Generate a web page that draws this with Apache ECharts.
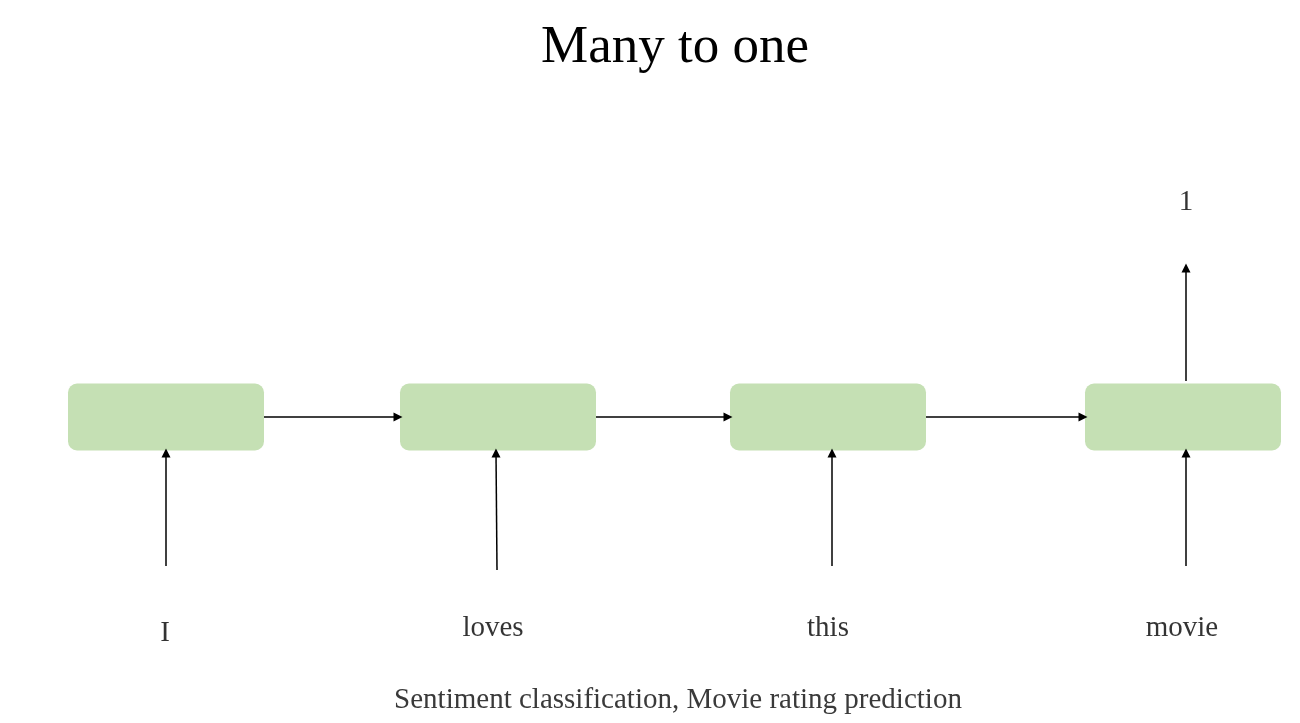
<!DOCTYPE html>
<html>
<head>
<meta charset="utf-8">
<script src="https://cdn.jsdelivr.net/npm/echarts@6/dist/echarts.min.js"></script>
<style>html,body{margin:0;padding:0;background:#fff}#main{width:1300px;height:723px}</style>
</head>
<body>
<div id="main"></div>
<script>
// diagram data (pixel-space coordinates on hidden axes)
var cellCenters = [166, 498, 828, 1183];
var cellY = 417;
var cellW = 196, cellH = 67;
var words = ['I', 'loves', 'this', 'movie'];
var wordX = [165, 493, 828, 1182];
var wordY = [633, 628, 628, 628];
var inputArrows = [[166, 566, 166, 453], [497, 570, 496, 453], [832, 566, 832, 453], [1186, 566, 1186, 453]];
var hArrows = [[264, 417, 398, 417], [596, 417, 728, 417], [926, 417, 1083, 417]];
var outArrow = [[1186, 381, 1186, 268]];
var outputLabel = ['1'];
var outputPos = [1186, 202];

var chart = echarts.init(document.getElementById('main'));

function arrowData(list) {
  return list.map(function (a) { return { coords: [[a[0], a[1]], [a[2], a[3]]] }; });
}

var allArrows = arrowData(inputArrows.concat(hArrows, outArrow));

chart.setOption({
  backgroundColor: '#fff',
  animation: false,
  grid: { left: 0, right: 0, top: 0, bottom: 0 },
  xAxis: { type: 'value', min: 0, max: 1300, show: false },
  yAxis: { type: 'value', min: 0, max: 723, inverse: true, show: false },
  graphic: [{
    type: 'text', x: 675, y: 22,
    style: { text: 'Many to one', font: '53px "Liberation Serif"', fill: '#000', align: 'center' }
  }, {
    type: 'text', x: 678, y: 686,
    style: { text: 'Sentiment classification, Movie rating prediction', font: '29px "Liberation Serif"', fill: '#3a3a3a', align: 'center' }
  }],
  series: [
    {
      type: 'custom',
      data: cellCenters.map(function (x) { return [x, cellY]; }),
      renderItem: function (params, api) {
        var p = api.coord([api.value(0), api.value(1)]);
        var s = api.size([cellW, cellH]);
        return {
          type: 'rect',
          shape: { x: p[0] - s[0] / 2, y: p[1] - s[1] / 2, width: s[0], height: s[1], r: 9 },
          style: { fill: '#c5e0b4' }
        };
      }
    },
    {
      type: 'lines',
      coordinateSystem: 'cartesian2d',
      symbol: ['none', 'triangle'],
      symbolSize: [7, 9],
      lineStyle: { color: '#000', width: 1.5, opacity: 1 },
      data: allArrows
    },
    {
      type: 'scatter',
      symbolSize: 0,
      label: {
        show: true, position: 'inside', color: '#000', textBorderWidth: 0,
        fontFamily: 'Liberation Serif', fontSize: 29,
        formatter: function (p) { return p.data[2]; }
      },
      data: words.map(function (w, i) { return [wordX[i], wordY[i], w]; })
        .concat([[outputPos[0], outputPos[1], outputLabel[0]]])
    }
  ]
});
</script>
</body>
</html>
